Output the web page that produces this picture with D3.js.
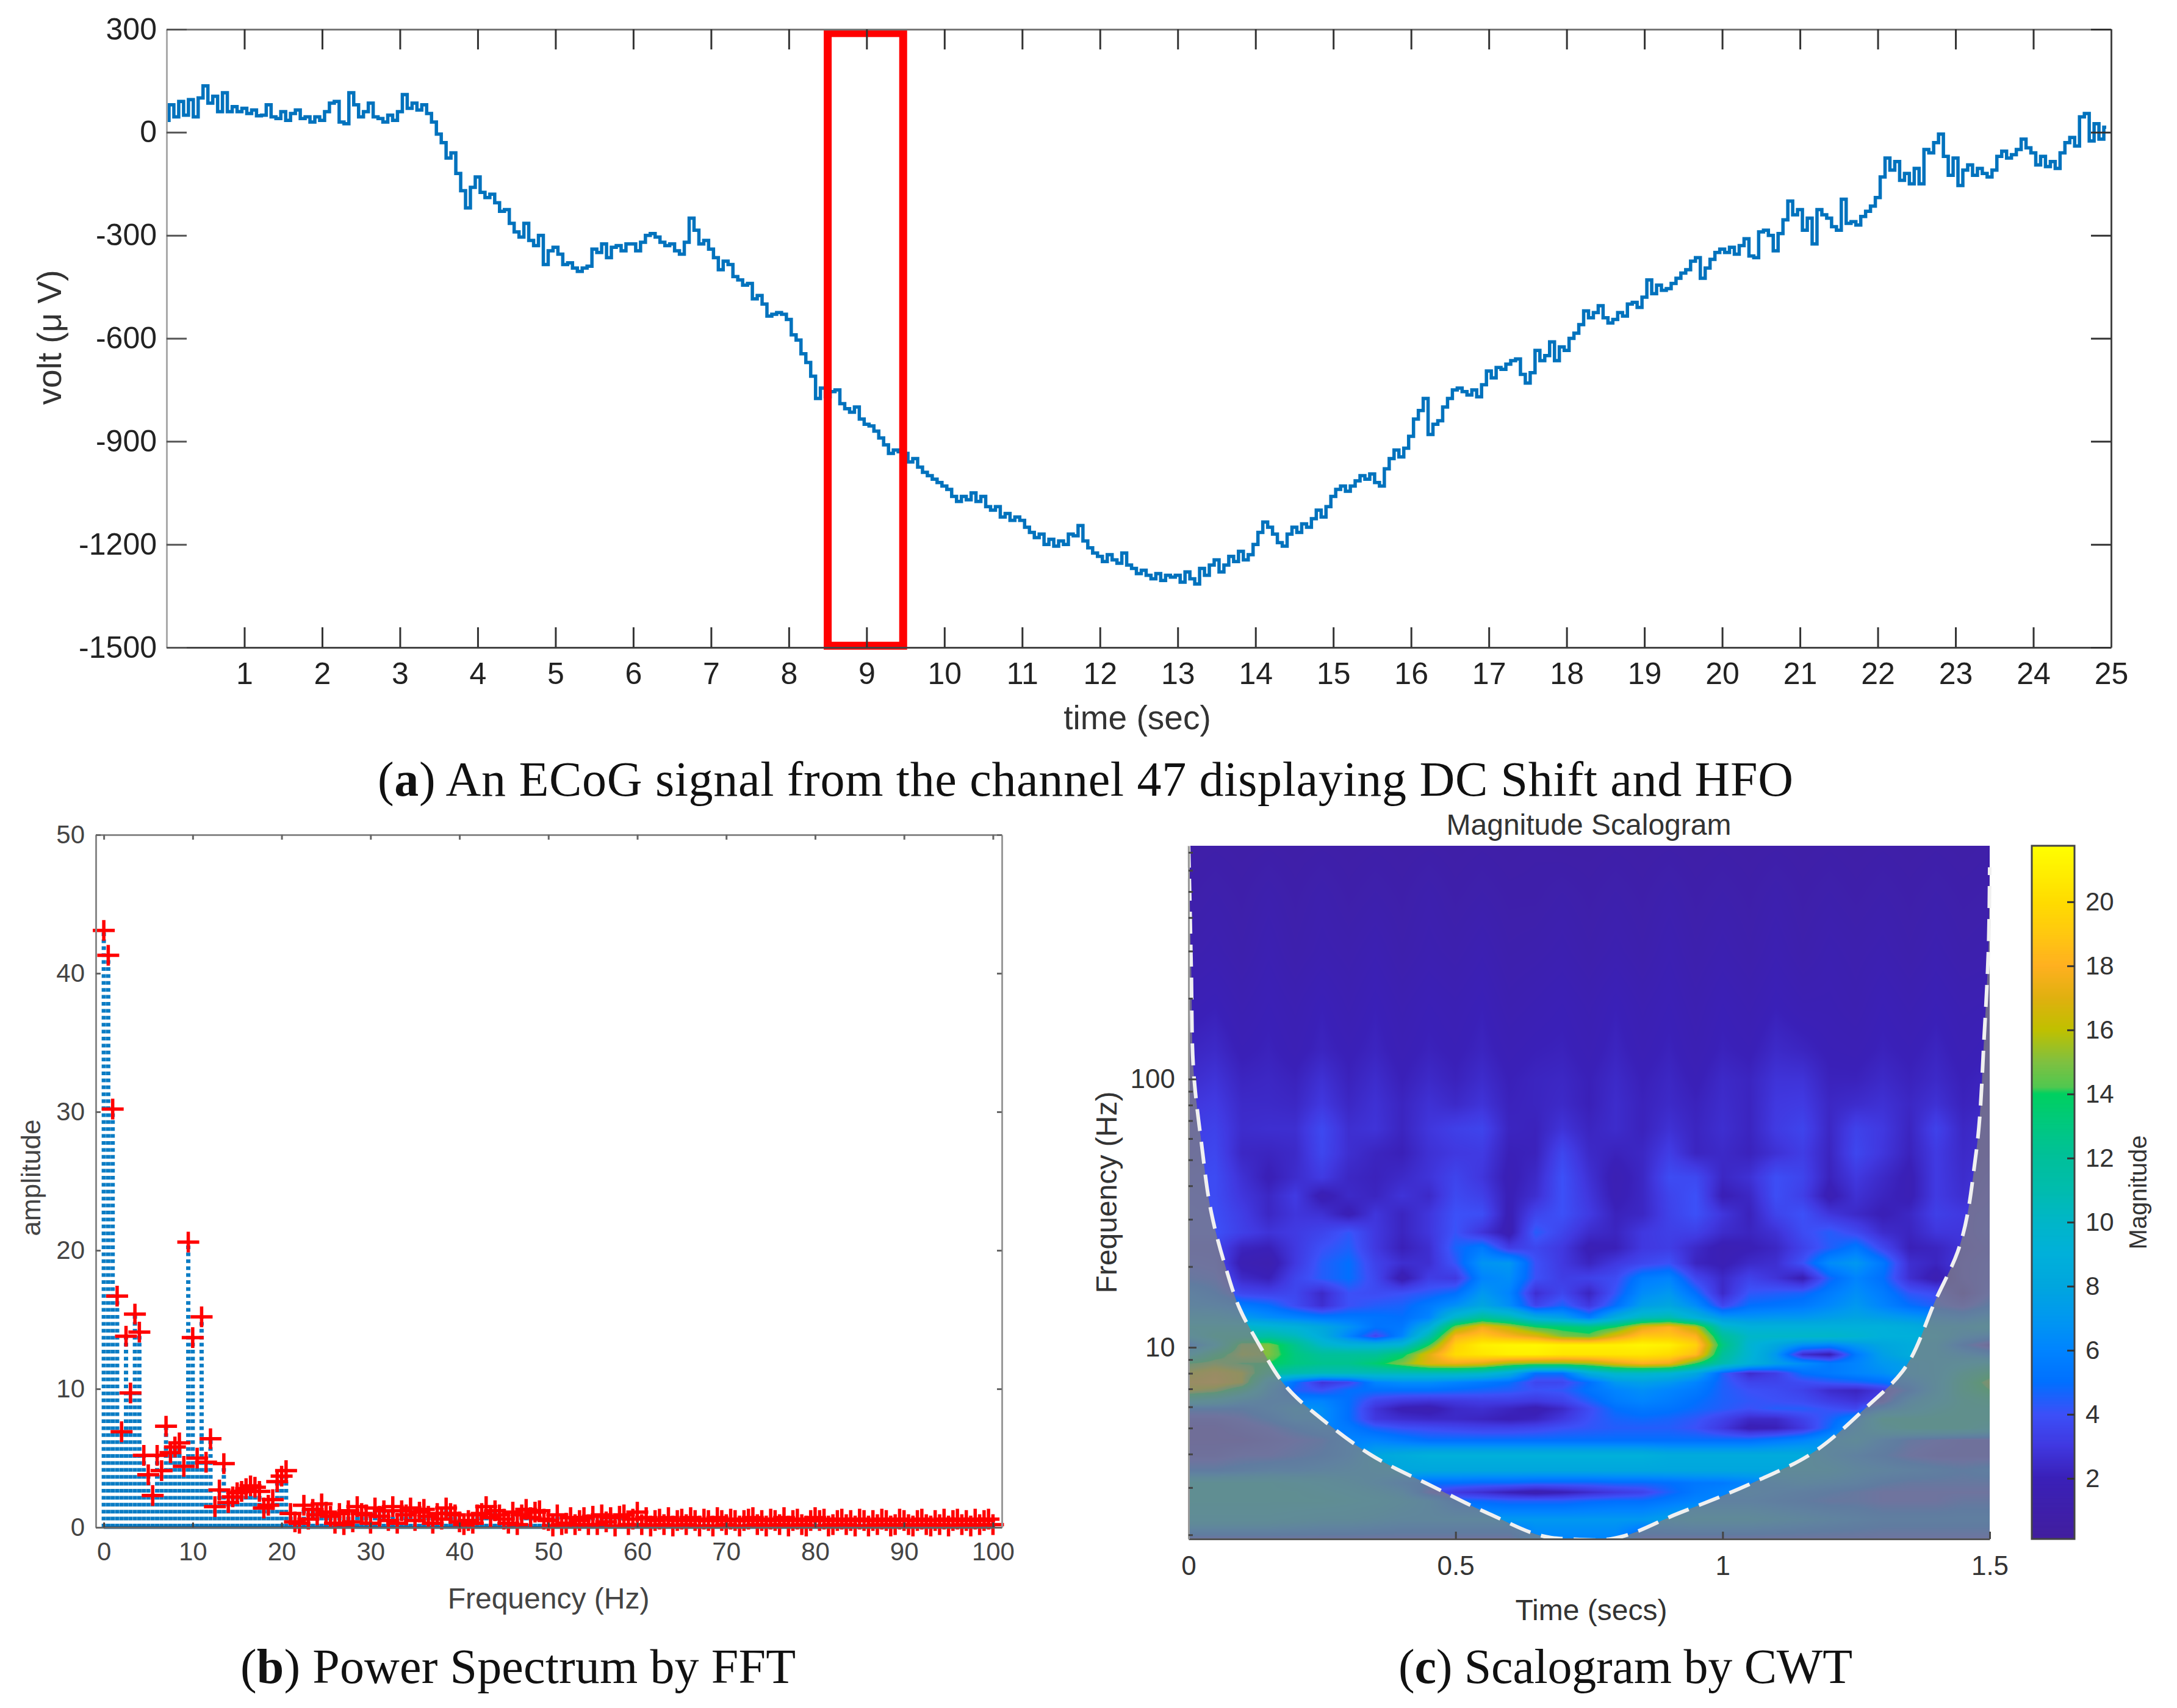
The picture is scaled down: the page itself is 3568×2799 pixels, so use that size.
<!DOCTYPE html>
<html>
<head>
<meta charset="utf-8">
<title>ECoG figure</title>
<script src="https://cdnjs.cloudflare.com/ajax/libs/d3/7.8.5/d3.min.js"></script>
<style>
  body { margin: 0; background: #fff; }
  svg { display: block; }
  text { font-family: "Liberation Sans", Arial, sans-serif; fill: #333; }
  .caption { font-family: "Liberation Serif", serif; fill: #111; font-size: 80px; }
</style>
</head>
<body>
<svg id="fig" width="3568" height="2799"></svg>
<script>
// (a) ECoG trace, one value every 1/16 s
var voltSignal = [
  35,80,45,90,50,95,45,100,135,85,105,60,115,60,75,60,
  70,55,65,48,50,80,45,40,60,35,55,65,40,45,30,45,
  35,60,85,90,30,25,115,80,45,60,85,45,40,30,50,35,
  60,110,70,85,65,80,55,30,-5,-30,-75,-60,-120,-170,-220,-160,
  -130,-175,-190,-180,-205,-230,-225,-265,-290,-305,-265,-315,-330,-300,-385,-345,
  -335,-355,-385,-380,-395,-405,-395,-390,-340,-350,-325,-365,-335,-330,-345,-325,
  -325,-345,-320,-300,-295,-305,-320,-330,-325,-345,-355,-320,-250,-285,-325,-315,
  -340,-365,-400,-375,-385,-420,-430,-445,-440,-485,-475,-500,-535,-530,-525,-530,
  -545,-590,-605,-645,-670,-710,-775,-745,-770,-755,-750,-790,-805,-815,-800,-835,
  -850,-855,-870,-890,-910,-935,-925,-930,-935,-960,-950,-975,-990,-1000,-1010,-1020,
  -1030,-1040,-1060,-1075,-1060,-1070,-1050,-1075,-1060,-1090,-1100,-1090,-1120,-1110,-1130,-1120,
  -1130,-1150,-1165,-1180,-1170,-1200,-1185,-1205,-1190,-1200,-1170,-1175,-1145,-1190,-1210,-1225,
  -1235,-1250,-1230,-1245,-1255,-1225,-1260,-1270,-1285,-1275,-1290,-1300,-1285,-1305,-1290,-1295,
  -1290,-1310,-1280,-1300,-1315,-1270,-1290,-1260,-1245,-1280,-1260,-1235,-1250,-1220,-1245,-1230,
  -1200,-1165,-1135,-1150,-1170,-1195,-1205,-1170,-1150,-1165,-1140,-1150,-1125,-1100,-1120,-1090,
  -1060,-1040,-1030,-1045,-1030,-1015,-1000,-1010,-995,-1020,-1030,-980,-950,-925,-945,-920,
  -885,-835,-810,-775,-880,-850,-840,-800,-775,-750,-745,-755,-765,-750,-770,-735,
  -695,-715,-685,-690,-675,-665,-660,-705,-730,-700,-635,-665,-650,-610,-665,-625,
  -635,-600,-585,-560,-520,-540,-525,-505,-540,-555,-545,-525,-535,-500,-495,-510,
  -480,-430,-470,-445,-460,-455,-440,-425,-410,-400,-375,-365,-425,-395,-370,-350,
  -340,-350,-335,-355,-330,-310,-360,-365,-290,-285,-300,-345,-295,-255,-200,-240,
  -225,-285,-250,-325,-225,-240,-250,-275,-285,-195,-265,-260,-270,-245,-230,-215,
  -190,-130,-75,-110,-85,-140,-120,-150,-105,-150,-50,-60,-30,-5,-70,-125,
  -75,-155,-110,-95,-125,-105,-120,-130,-110,-70,-55,-75,-65,-50,-20,-45,
  -60,-95,-70,-100,-85,-105,-60,-30,-15,-40,45,55,-25,25,-20,15
];
var voltStep = 1 / 16;
var timeTicks = d3.range(1, 26);
var voltTicks = [300, 0, -300, -600, -900, -1200, -1500];
var redBoxTime = [8.5, 9.47];
var redBoxVolt = [289, -1495];

// (b) FFT peaks, one value per 0.5 Hz
var fftStep = 0.5;
var fftAmp = [
  43.1,41.3,30.2,16.7,6.9,13.8,9.7,15.4,14.1,5.2,
  3.8,2.3,5.2,4.1,7.3,5.4,5.8,6.1,4.4,20.6,
  13.7,5.0,15.2,4.7,6.4,1.5,2.7,4.6,1.8,2.2,
  2.5,2.6,2.8,3.0,2.9,2.6,1.4,1.6,2.0,3.3,
  3.7,4.1,1.0,0.4,0.3,1.6,0.6,1.3,0.9,1.7,
  1.1,0.8,0.3,1.0,0.2,1.2,0.4,1.5,1.0,0.9,
  0.3,1.4,0.8,1.2,0.5,1.5,0.3,1.2,0.9,1.4,
  0.5,1.1,1.3,0.8,0.3,1.0,0.6,1.4,1.0,0.9,
  0.4,0.2,0.5,0.3,0.9,1.0,1.5,0.7,1.2,0.9,
  0.6,0.3,1.1,0.2,0.9,1.3,0.7,1.1,1.2,0.6,
  0.5,0.1,0.9,0.2,0.3,0.7,0.2,0.5,0.7,0.2,
  0.8,0.2,0.9,0.4,0.7,0.1,0.8,0.9,0.2,0.6,
  1.1,0.2,0.7,0.1,0.5,0.6,0.2,0.7,0.1,0.5,
  0.6,0.2,0.7,0.5,0.1,0.6,0.5,0.1,0.7,0.5,
  0.2,0.6,0.5,0.1,0.5,0.6,0.7,0.2,0.5,0.1,
  0.6,0.5,0.2,0.7,0.1,0.5,0.6,0.2,0.1,0.5,
  0.7,0.5,0.6,0.1,0.2,0.5,0.6,0.2,0.5,0.1,
  0.6,0.5,0.1,0.5,0.2,0.6,0.5,0.1,0.2,0.6,
  0.5,0.2,0.1,0.5,0.6,0.2,0.1,0.5,0.2,0.6,
  0.1,0.5,0.6,0.2,0.5,0.1,0.6,0.2,0.5,0.6,
  0.2
];
var freqTicks = d3.range(0, 101, 10);
var ampTicks = [0, 10, 20, 30, 40, 50];

// (c) scalogram magnitude, one row per frequency, one column per scaleTimes entry
var scaleTimes = d3.range(31).map(function(i) { return i * 0.05; });
var scaleFreqs = [741,480,299,187,129,99.5,80.7,65.3,53,43,36.7,31.4,26.8,23.5,20.6,18.1,15.9,14.3,12.9,11.9,
  11.0,10.2,9.4,8.7,8.0,7.4,6.9,6.3,5.9,5.4,5.0,4.5,3.95,3.47,3.12,2.88,2.67,2.28,1.93];
var scaleMag = [
  [.8,.9,.8,.9,.8,.9,.8,.9,.8,.9,.8,.9,.8,.9,.8,.8,.9,.8,.9,.8,.9,.8,.9,.8,.9,.8,.9,.8,.9,.8,.9],
  [1,1.2,1,1.3,1,1.3,1,1.2,1,1.3,1,1.2,1,1,1.2,1,1.2,1,1.3,1,1.2,1,1.3,1,1.2,1,1.2,1,1.2,1,1.1],
  [1.3,1.5,1.2,1.6,1.2,1.5,1.3,1.6,1.2,1.5,1.3,1.6,1.2,1.3,1.5,1.2,1.5,1.2,1.6,1.2,1.5,1.2,1.6,1.2,1.5,1.3,1.5,1.2,1.5,1.2,1.3],
  [1.8,2,1.6,1.9,1.6,2,1.6,2,1.6,1.9,1.7,2,1.5,1.7,1.9,1.6,2,1.6,1.9,1.5,1.9,1.6,2,1.7,1.7,1.5,1.9,1.6,1.9,1.6,1.7],
  [2.2,2.4,1.9,2.1,1.8,2.2,1.9,2.2,1.8,2.1,1.9,2.2,1.8,2,2.1,1.8,2.2,1.8,2.1,1.7,2.1,1.9,2.4,2.2,1.9,1.8,2.1,1.9,2.2,1.8,2],
  [2.5,2.8,2.2,2.3,2.1,2.7,2.1,2.5,2,2.4,2.1,2.5,2,2.2,2.3,2,2.4,2,2.3,1.9,2.4,2.2,2.8,2.8,2.1,2.1,2.4,2.1,2.4,2,2.2],
  [2.9,3.1,2.4,2.4,2.3,3,2.3,2.7,2.2,2.7,2.4,2.8,2.1,2.2,2.4,2,2.5,2.1,2.4,2.1,2.5,2.2,3,3.1,2.3,2.5,2.7,2.3,2.7,2.1,2.3],
  [3.2,3.4,2.5,2.6,2.6,3.7,2.6,2.8,2.2,2.9,3.3,3.5,2.2,2.1,2.8,2.2,2.5,2.1,2.7,2.2,2.6,2.2,3.1,3.5,2.3,3.4,3,2.2,3.4,2.3,2.6],
  [3.4,3.6,2.3,2.2,2.4,3.6,2.6,2.2,2,2.7,3,3.1,2,2.1,3.6,2.4,2.1,2.3,3.2,2.2,2.4,2.1,2.7,3.2,2.2,3.6,2.9,2.1,3.1,2.4,2.6],
  [3.7,3.8,2.7,1.9,2.5,3.1,2.3,2.1,2.4,2.8,3.5,2.9,1.8,2.4,4,2.7,1.7,2.3,3.8,3.7,2.3,2.7,3.9,3.5,2.1,3,2.4,1.8,3.1,2.5,2.9],
  [3.9,3.8,2.9,2.3,3.1,1.7,2.4,2.2,2.8,2.4,3.7,3.3,1.9,2.6,4,2.9,1.8,2.3,3.5,4,1.9,2.3,3.9,3.3,1.7,2.7,2.2,1.8,3.1,2.6,3.1],
  [4,3.9,3.2,2.3,2.9,2.7,1.8,2.9,2.2,2.9,4,3.9,1.8,3.5,4,3.1,2.1,2.3,3.4,4,2.9,2.1,3.5,4,2.9,2.4,1.9,2.3,3.3,3,3.3],
  [4,4,3.3,2.8,3.1,3.5,4.2,3,2.2,2.9,4.1,2.8,1.6,4.4,3.5,2.5,2.2,3,3.3,3.3,2.5,2.2,2.7,3.8,4.4,3.7,2.5,2.2,2.9,2.9,3.5],
  [3.6,3.6,2.2,2,3,4,4.5,3,2,2.6,4.6,5.5,3.2,3.6,3,1.8,2,3,3.2,2.4,1.7,1.9,2.3,3.4,4.4,5.4,3.6,2,2.2,2.8,3.2],
  [4,3.8,1.7,1.4,3,4.4,5,3.4,2.6,2.6,4.2,6.8,7,4,3,2.2,3,3.6,4,2.2,1.8,2.4,2.6,4,6.4,7,5.4,2.6,2.2,3,3.5],
  [4.5,4.2,2.4,2,3.5,4.4,5,3.6,1.6,3.2,3,6,6.5,4,3.2,3.4,3.8,5.6,6,3.6,2.4,3.4,2.8,1.8,4.6,6,5,2.6,1.6,3,3.6],
  [6,5,3.6,3.4,3.6,2.4,4,3.8,4,4.4,5,7,6,2.6,3.6,2.2,4.2,6.4,7,5,2.4,4.2,4.4,4.6,5.6,6.5,5.6,4.2,3.8,2.4,4],
  [6.5,6.2,5.5,5,3.8,2.6,4,4.4,4.6,5.5,6.6,8,6.5,3.5,4.6,3,5,7.4,8,6.4,3.6,5,5.2,5.5,6.2,7,6,5,4.4,3.6,5],
  [8,8,7.2,6.5,6,5.5,5.4,5.2,5,6,10,12,11,8.5,7.5,5.6,8.5,10.5,11,9,7,6.8,7,7,7.4,7.8,7.4,7,6.6,6,7],
  [10,10,10,9.6,9,8,6.8,5.2,5.4,8.5,15,17.5,16,14,13.5,13,14,17,18,16,10,9,9,9,9,9,9,8.6,8,8,9],
  [9,11,11,11.5,10.5,8.5,6,3.5,6,11,18,19,18,17,15,14.5,17,19,19,18,12,10,10,10,10,9.6,9,9,9,7,6],
  [5,9,15,15,12.5,10,9,9,9.5,14,19.5,21,21.3,21.4,21,21,21,21.3,21,19.5,13,9.5,8,6.5,6,7,8,8.5,8,5,3],
  [9,13,15.5,15,13,12,12,12,13.5,17,20,20.5,21,21,20.5,20.5,20.5,20.5,20,18.5,12,9.5,7,2.5,1.8,5.5,7.5,8.5,8,7,6],
  [14,15,14,14,13,12.5,12.5,13.5,15,17,17.5,17,15.5,15,15,15.5,17,18,17.5,14,11,9,7.5,6.5,5.5,6,7,7.5,8,9,10],
  [16,17,16,12,11,10.5,10.5,10.5,10.5,10.5,10.5,10,8.5,5,5,8.5,10,10,9.5,8,4.5,2.5,3.2,5,5.5,6,6.5,7.5,8,11,13],
  [17,17.5,16,8,5,2.8,3.5,6,6.5,6.5,6,5.5,5,3.6,3.6,5,7,7.5,7,6,4.5,3.5,3.5,3.8,4.2,4.5,5,6,8,12,15],
  [16,15,12,7,4.5,4,5,5,5,5,4.8,4.6,4.4,4,4.2,5.2,6,6.5,6,5.5,4.5,4,3.8,3.4,2.5,2.2,3,5,8,12,14],
  [10,9,7,6,6,6,5,3.5,3,2.8,3,3.2,3.2,3,3.4,4.5,5.6,6,5.6,5,4.5,4.2,4,3.8,3.2,2.8,3.5,7,9,11,12],
  [5,5,5,6,7,6.5,5,2.8,1.8,1.6,2.4,2.6,2.2,1.7,2.4,3.8,5,5.4,5.2,4.8,4.4,4,4.4,4.4,4,3.6,6,8,10,11,11],
  [3.5,3.5,4,5,6.5,6.5,5,3,2.6,2.4,2.4,2.2,1.9,2.2,3,4,4.6,4.8,4.6,4.2,3.4,2.4,2.4,3.4,4.5,6,11,11,11,11,11],
  [3,3,3.5,4,5,6,5.5,4.5,4,3.8,3.6,3.4,3.4,3.6,4,4.2,4.4,4.4,4.4,4,3,1.8,2,3,4.8,7,10,11,11,11,10],
  [3,3,3,3.5,4,4.5,6,6,5.5,5,5,5,5,5,5,5,5,5,5,5,5,5,5.5,6,7,8,6,4.5,4,3.5,3.5],
  [3.5,3.5,4,4,4.5,5,6,8,8.5,9,9,9,9,9,9,9,9,9,8.5,8.5,8.5,8.5,8.5,8.5,7,6,5,4,3.5,3.5,3.5],
  [5,5,5.5,6,6,6.5,7,7.5,8,8,8,8,8,8,8,8,8,8,8,8,8,8,8,8,8,7,6.5,6,5.5,5,5.5],
  [10,10,10,10,9.5,9,8,7,5.8,5,5,4.8,4.8,4.6,4.6,4.6,4.8,4.8,5,5.4,5.5,6,6.5,7,6.5,6,5,4.5,4.5,4.5,4.5],
  [10,10,10,10,10,9.5,9,8,7,4,3,2.6,2,1.5,1.9,2.5,3,3.4,4.6,5.5,6,6.5,6,5.5,5,4.5,4,4,4,4,4],
  [10,10,10,10,10,10,9.5,9,8,7,5,4.8,4.5,4.5,4.5,4.8,5,5,5.5,6,6,6,5.5,5,4.5,4.5,4,4,4,4.5,4.5],
  [9,9,9,9,8.5,8,8,7.5,7,7,7,7,7,7,7,7,7,7,7.5,8,8,8,7.5,7,6.5,6,5.5,5.5,5.5,5.5,5.5],
  [4,4,4,4,4,4,4,4,4,4,4,4,4,6,6,6,6,4,4,4,4,4,4,4,4,4,4,4,4,4,4]
];
var coiTime = [0,.002,.005,.0105,.024,.043,.07,.096,.129,.181,.26,.339,.457,.562,.68,.71,.79,.916,1.06,1.165,1.27,1.336,1.40,1.44,1.474,1.49,1.498,1.5];
var coiFreq = [741,500,258,100,58,31.5,19.7,13.9,10.5,7.2,5.2,4.0,3.03,2.4,1.95,1.93,1.93,2.4,3.15,4.0,6.0,8.1,15.2,22.7,52,148,320,616];
var timeTicksC = [0, 0.5, 1, 1.5];
var logTicksMajor = [10, 100];
var logTicksMinor = [2,3,4,5,6,7,8,9,20,30,40,50,60,70,80,90,200,300,400,500,600,700];
var barTicks = [2,4,6,8,10,12,14,16,18,20];
// colour map as seen on the colour bar
var cmapValues = [0.1,2,3,4,5,6,7,8,9,10,11,12,13,14,14.2,15,16,17,18,19,20,21.75];
var cmapColors = ["#421f9e","#3a20b8","#4038e0","#3c50f8","#0070ff","#0084ff","#0098f0","#00a6de","#00b0da","#00b6c8","#00bcae","#00c09a","#00c880","#00d060","#50c850","#80c040","#c0c000","#e0b010","#ffb020","#ffc810","#ffdc00","#ffff00"];

var color = d3.scaleLinear().domain(cmapValues).range(cmapColors).clamp(true);
var svg = d3.select("#fig");
svg.append("rect").attr("width", 3568).attr("height", 2799).attr("fill", "#fff");

function styleAxis(g, lineColor, tickColor, textColor, size) {
  g.selectAll(".domain").attr("stroke", lineColor).attr("stroke-width", 3);
  g.selectAll(".tick line").attr("stroke", tickColor).attr("stroke-width", 3);
  g.selectAll(".tick text").attr("fill", textColor).attr("font-size", size).style("fill", textColor);
}

// ---- panel a
var xa = d3.scaleLinear().domain([0, 25]).range([273, 3460]);
var ya = d3.scaleLinear().domain([-1500, 300]).range([1061, 48]);
var pa = svg.append("g");

pa.append("path")
  .datum(voltSignal)
  .attr("fill", "none")
  .attr("stroke", "#0072bd")
  .attr("stroke-width", 5.5)
  .attr("d", d3.line()
    .x(function(d, i) { return xa(i * voltStep); })
    .y(function(d) { return ya(d); })
    .curve(d3.curveStep));

pa.append("rect")
  .attr("x", xa(redBoxTime[0]))
  .attr("y", ya(redBoxVolt[0]))
  .attr("width", xa(redBoxTime[1]) - xa(redBoxTime[0]))
  .attr("height", ya(redBoxVolt[1]) - ya(redBoxVolt[0]))
  .attr("fill", "none")
  .attr("stroke", "#ff0000")
  .attr("stroke-width", 13);

pa.append("g").attr("transform", "translate(0,1061)")
  .call(d3.axisBottom(xa).tickValues(timeTicks).tickSizeInner(-33).tickSizeOuter(0).tickPadding(24).tickFormat(d3.format("d")))
  .call(styleAxis, "#444", "#333", "#222", 50);
pa.append("g").attr("transform", "translate(0,48)")
  .call(d3.axisTop(xa).tickValues(timeTicks).tickSizeInner(-33).tickSizeOuter(0).tickFormat(""))
  .call(styleAxis, "#777", "#333", "#222", 50);
pa.append("g").attr("transform", "translate(273,0)")
  .call(d3.axisLeft(ya).tickValues(voltTicks).tickSizeInner(-33).tickSizeOuter(0).tickPadding(16).tickFormat(String))
  .call(styleAxis, "#aaa", "#555", "#222", 50);
pa.append("g").attr("transform", "translate(3460,0)")
  .call(d3.axisRight(ya).tickValues(voltTicks).tickSizeInner(-33).tickSizeOuter(0).tickFormat(""))
  .call(styleAxis, "#444", "#333", "#222", 50);
pa.append("text").attr("x", 1864).attr("y", 1195).attr("text-anchor", "middle").attr("font-size", 55).text("time (sec)");
pa.append("text").attr("transform", "translate(100,553) rotate(-90)").attr("text-anchor", "middle").attr("font-size", 55).text("volt (μ V)");

function caption(x, y, len, letter, rest) {
  var t = svg.append("text").attr("class", "caption").attr("x", x).attr("y", y)
    .attr("textLength", len).attr("lengthAdjust", "spacing");
  t.append("tspan").text("(");
  t.append("tspan").attr("font-weight", "bold").text(letter);
  t.append("tspan").text(") " + rest);
}
caption(619, 1304, 2320, "a", "An ECoG signal from the channel 47 displaying DC Shift and HFO");
caption(394, 2758, 910, "b", "Power Spectrum by FFT");
caption(2292, 2758, 744, "c", "Scalogram by CWT");

// ---- panel b
var xb = d3.scaleLinear().domain([-0.9, 101]).range([157, 1642]);
var yb = d3.scaleLinear().domain([0, 50]).range([2503, 1368]);
var pb = svg.append("g");

pb.selectAll("line.stem")
  .data(fftAmp)
  .enter().append("line")
  .attr("class", "stem")
  .attr("x1", function(d, i) { return xb(i * fftStep); })
  .attr("x2", function(d, i) { return xb(i * fftStep); })
  .attr("y1", yb(0))
  .attr("y2", function(d) { return yb(d); })
  .attr("stroke", "#0a7cc4")
  .attr("stroke-width", 7)
  .attr("stroke-dasharray", "6 5.4");
pb.append("line")
  .attr("x1", xb(0)).attr("x2", xb(100)).attr("y1", yb(0)).attr("y2", yb(0))
  .attr("stroke", "#0a5f9c").attr("stroke-width", 5);
pb.selectAll("path.peak")
  .data(fftAmp)
  .enter().append("path")
  .attr("class", "peak")
  .attr("d", "M-18,0H18M0,-17V17")
  .attr("transform", function(d, i) { return "translate(" + xb(i * fftStep) + "," + yb(d) + ")"; })
  .attr("fill", "none")
  .attr("stroke", "#ff0000")
  .attr("stroke-width", 5.5);

pb.append("g").attr("transform", "translate(0,2503)")
  .call(d3.axisBottom(xb).tickValues(freqTicks).tickSizeInner(-8).tickSizeOuter(0).tickPadding(24))
  .call(styleAxis, "#666", "#444", "#444", 42);
pb.append("g").attr("transform", "translate(0,1368)")
  .call(d3.axisTop(xb).tickValues(freqTicks).tickSizeInner(-8).tickSizeOuter(0).tickFormat(""))
  .call(styleAxis, "#888", "#666", "#444", 42);
pb.append("g").attr("transform", "translate(157,0)")
  .call(d3.axisLeft(yb).tickValues(ampTicks).tickSizeInner(-8).tickSizeOuter(0).tickPadding(18))
  .call(styleAxis, "#888", "#666", "#444", 42);
pb.append("g").attr("transform", "translate(1642,0)")
  .call(d3.axisRight(yb).tickValues(ampTicks).tickSizeInner(-8).tickSizeOuter(0).tickFormat(""))
  .call(styleAxis, "#999", "#666", "#444", 42);
pb.append("text").attr("x", 899).attr("y", 2636).attr("text-anchor", "middle").attr("font-size", 48).attr("fill", "#444").style("fill", "#444").text("Frequency (Hz)");
pb.append("text").attr("transform", "translate(66,1930) rotate(-90)").attr("text-anchor", "middle").attr("font-size", 44).attr("fill", "#444").style("fill", "#444").text("amplitude");

// ---- panel c
var xc = d3.scaleLinear().domain([0, 1.5]).range([1948, 3261]);
var yc = d3.scaleLog().domain([1.93, 741]).range([2522, 1386]);
var pc = svg.append("g");

// value lookup between the cells, like shading interp
var logFreqs = scaleFreqs.map(function(f) { return Math.log10(f); });
function magAt(t, f) {
  var lf = Math.log10(f);
  var c = Math.min(scaleTimes.length - 2, Math.max(0, d3.bisectRight(scaleTimes, t) - 1));
  var r = 0;
  while (r < logFreqs.length - 2 && logFreqs[r + 1] > lf) r++;
  var u = (t - scaleTimes[c]) / (scaleTimes[c + 1] - scaleTimes[c]);
  var v = (logFreqs[r] - lf) / (logFreqs[r] - logFreqs[r + 1]);
  var a = scaleMag[r][c] * (1 - u) + scaleMag[r][c + 1] * u;
  var b = scaleMag[r + 1][c] * (1 - u) + scaleMag[r + 1][c + 1] * u;
  return a * (1 - v) + b * v;
}

var cw = xc.range()[1] - xc.range()[0], ch = yc.range()[0] - yc.range()[1];
var canvas = document.createElement("canvas");
canvas.width = cw; canvas.height = ch;
var ctx = canvas.getContext("2d");
var img = ctx.createImageData(cw, ch);
for (var py = 0; py < ch; py++) {
  var fq = yc.invert(yc.range()[1] + py + 0.5);
  for (var px = 0; px < cw; px++) {
    var rgb = d3.rgb(color(magAt(xc.invert(xc.range()[0] + px + 0.5), fq)));
    var k = (py * cw + px) * 4;
    img.data[k] = rgb.r; img.data[k + 1] = rgb.g; img.data[k + 2] = rgb.b; img.data[k + 3] = 255;
  }
}
ctx.putImageData(img, 0, 0);
pc.append("image")
  .attr("x", xc(0)).attr("y", yc(741))
  .attr("width", cw).attr("height", ch)
  .attr("href", canvas.toDataURL());

svg.append("clipPath").attr("id", "plotc").append("rect")
  .attr("x", xc(0) - 4).attr("y", yc(741)).attr("width", cw + 8).attr("height", ch);

var coiPoints = coiTime.map(function(t, i) { return [t, coiFreq[i]]; });
var coiLine = d3.line()
  .x(function(d) { return xc(d[0]); })
  .y(function(d) { return yc(d[1]); })
  .curve(d3.curveCatmullRom.alpha(1));

pc.append("path")
  .attr("clip-path", "url(#plotc)")
  .attr("d", coiLine(coiPoints) + "L" + xc(1.5) + "," + yc(1.93) + "L" + xc(0) + "," + yc(1.93) + "Z")
  .attr("fill", "#808080")
  .attr("fill-opacity", 0.75);
pc.append("path")
  .attr("clip-path", "url(#plotc)")
  .attr("d", coiLine(coiPoints))
  .attr("fill", "none")
  .attr("stroke", "#f0f0f0")
  .attr("stroke-width", 6)
  .attr("stroke-dasharray", "36 18");

pc.append("g").attr("transform", "translate(0,2522)")
  .call(d3.axisBottom(xc).tickValues(timeTicksC).tickSizeInner(-12).tickSizeOuter(0).tickPadding(28).tickFormat(d3.format("")))
  .call(styleAxis, "#555", "#444", "#333", 44);
pc.append("g").attr("transform", "translate(1948,0)")
  .call(d3.axisLeft(yc).tickValues(logTicksMajor).tickSizeInner(-13).tickSizeOuter(0).tickPadding(22).tickFormat(d3.format("d")))
  .call(styleAxis, "#999", "#444", "#333", 44);
pc.append("g").attr("transform", "translate(1948,0)")
  .call(d3.axisLeft(yc).tickValues(logTicksMinor).tickSizeInner(-7).tickSizeOuter(0).tickFormat(""))
  .call(styleAxis, "none", "#444", "#333", 44);
pc.append("text").attr("x", 2604).attr("y", 1368).attr("text-anchor", "middle").attr("font-size", 48).text("Magnitude Scalogram");
pc.append("text").attr("x", 2608).attr("y", 2655).attr("text-anchor", "middle").attr("font-size", 48).text("Time (secs)");
pc.append("text").attr("transform", "translate(1830,1954) rotate(-90)").attr("text-anchor", "middle").attr("font-size", 48).text("Frequency (Hz)");

// colour bar
var yBar = d3.scaleLinear().domain([0.11, 21.75]).range([2522, 1386]);
var barLevels = d3.range(0.11, 21.75, 0.04);
pc.selectAll("rect.level")
  .data(barLevels)
  .enter().append("rect")
  .attr("class", "level")
  .attr("x", 3330).attr("width", 70)
  .attr("y", function(d) { return yBar(d + 0.05); })
  .attr("height", function(d) { return yBar(d) - yBar(d + 0.05) + 0.5; })
  .attr("fill", function(d) { return color(d); });
pc.append("rect").attr("x", 3330).attr("y", 1386).attr("width", 70).attr("height", 1136)
  .attr("fill", "none").attr("stroke", "#444").attr("stroke-width", 3);
pc.append("g").attr("transform", "translate(3400,0)")
  .call(d3.axisRight(yBar).tickValues(barTicks).tickSizeInner(-12).tickSizeOuter(0).tickPadding(18))
  .call(styleAxis, "none", "#333", "#333", 42);
pc.append("text").attr("transform", "translate(3518,1954) rotate(-90)").attr("text-anchor", "middle").attr("font-size", 40).text("Magnitude");
</script>
</body>
</html>
